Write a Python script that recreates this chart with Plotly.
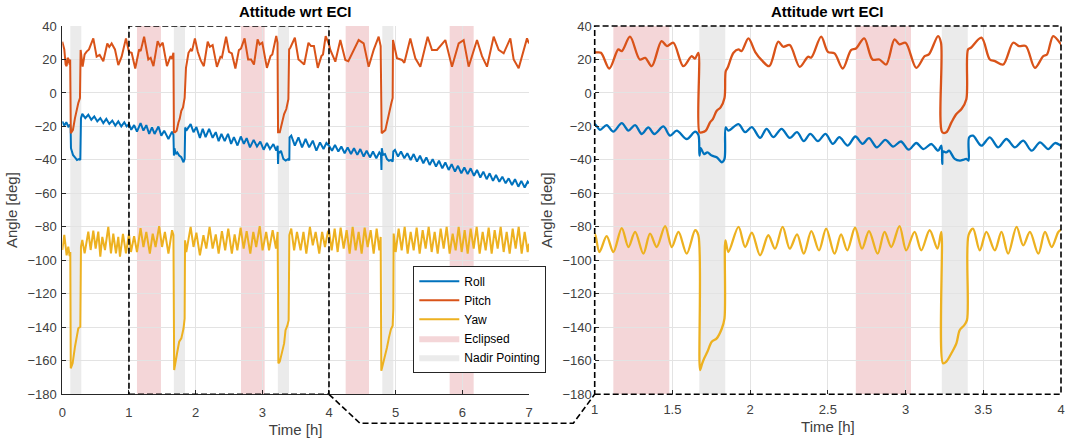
import plotly.graph_objects as go

# ---------------- data ----------------
t_roll = [0.0, 0.03, 0.06, 0.09, 0.115, 0.125, 0.13, 0.16, 0.19, 0.22, 0.25, 0.27, 0.28, 0.30, 0.345, 0.39, 0.435, 0.48, 0.525, 0.57, 0.615, 0.66, 0.705, 0.75, 0.795, 0.84, 0.885, 0.93, 0.965,
          1.0, 1.034, 1.077, 1.12, 1.174, 1.217, 1.26, 1.303, 1.345, 1.384, 1.442, 1.485, 1.528, 1.592, 1.646, 1.667, 1.674, 1.682, 1.704, 1.725, 1.753, 1.785, 1.818, 1.835, 1.843, 1.86,
          1.925, 1.968, 2.011, 2.064, 2.106, 2.149, 2.202, 2.255, 2.302, 2.345, 2.387, 2.436, 2.485, 2.532, 2.574, 2.628, 2.677, 2.723, 2.765, 2.815, 2.87, 2.92, 2.97, 3.02, 3.069, 3.115, 3.166, 3.209, 3.23,
          3.236, 3.242, 3.262, 3.28, 3.316, 3.35, 3.375, 3.391, 3.405, 3.409, 3.434, 3.488, 3.542, 3.596, 3.649, 3.703, 3.757, 3.811, 3.865, 3.918, 3.961,
          4.0, 4.045, 4.09, 4.14, 4.185, 4.235, 4.28, 4.33, 4.375, 4.425, 4.47, 4.52, 4.565, 4.615, 4.66, 4.71, 4.755, 4.78, 4.787, 4.792, 4.81, 4.84, 4.87, 4.90, 4.93, 4.955, 4.965, 4.99,
          5.035, 5.08, 5.13, 5.175, 5.225, 5.27, 5.32, 5.365, 5.415, 5.46, 5.51, 5.555, 5.605, 5.65, 5.70, 5.745, 5.795, 5.84, 5.89, 5.935, 5.985, 6.03, 6.08, 6.125, 6.175, 6.22, 6.27, 6.315,
          6.365, 6.41, 6.46, 6.505, 6.555, 6.60, 6.65, 6.695, 6.745, 6.79, 6.84, 6.885, 6.935, 6.98, 7.0]
roll = [-17, -19.5, -17.5, -20, -19, -21, -33, -37, -38.5, -40, -39.5, -40, -15, -12.5, -15, -13, -16, -14, -17, -15, -18, -15.5, -18.5, -16.5, -19.5, -17, -20, -17.5, -20,
        -18.6, -22, -19.2, -23.1, -18, -22.5, -19.2, -24.5, -20.6, -24.5, -20, -25.5, -22.5, -27.5, -23.1, -25, -37.4, -33, -36.5, -35.5, -37.4, -38.4, -41.4, -39.4, -20.6, -22.5,
        -18.6, -23.4, -20.4, -26.8, -21.4, -26.4, -21.4, -26.8, -23.4, -28.8, -24.4, -28.8, -24.4, -30.4, -26.4, -31.4, -26, -30.4, -27, -32.5, -28, -32, -29, -33.9, -29.9, -33.5, -30.5, -34.5, -31.5,
        -42.4, -35, -35.5, -34.5, -39.4, -40.4, -39.8, -39.4, -40.4, -26.5, -25.5, -31.5, -26.5, -32.5, -27.5, -32.5, -28.5, -34.5, -29.5, -33.5, -29.9,
        -31.5, -34.5, -31, -35, -32, -36, -32.5, -36.5, -33, -37, -33.5, -38, -34.5, -38.5, -35, -39, -35.5, -37, -46, -33, -37, -36.5, -39.5, -40.5, -40, -41, -35, -34,
        -38, -35, -39, -36, -40, -36.5, -41, -37.5, -42, -38.5, -43, -39.5, -44, -40.5, -45, -41.5, -46, -42.5, -47, -43.5, -48, -44.5, -48.5, -45, -49.5, -46, -50.5, -47,
        -51.5, -48, -52.5, -49, -53, -50, -54, -51, -55, -51.5, -56, -52.5, -56.5, -53, -54]

t_pitch = [0.0, 0.03, 0.05, 0.065, 0.08, 0.095, 0.11, 0.118, 0.128, 0.16, 0.19, 0.215, 0.24, 0.265, 0.275, 0.305, 0.335, 0.365, 0.40, 0.465, 0.515, 0.56, 0.615, 0.675, 0.705, 0.74, 0.79, 0.84, 0.89, 0.955,
           1.0, 1.04, 1.094, 1.152, 1.175, 1.227, 1.29, 1.325, 1.367, 1.43, 1.465, 1.506, 1.57, 1.624, 1.645, 1.667, 1.674, 1.69, 1.715, 1.742, 1.76, 1.785, 1.81, 1.835, 1.843, 1.855, 1.893, 1.925, 1.945,
           1.989, 2.032, 2.074, 2.123, 2.181, 2.213, 2.255, 2.319, 2.372, 2.394, 2.457, 2.5, 2.543, 2.596, 2.649, 2.681, 2.734, 2.787, 2.832, 2.875, 2.929, 2.96, 3.0, 3.069, 3.123, 3.15, 3.209, 3.228,
           3.236, 3.262, 3.295, 3.327, 3.36, 3.391, 3.402, 3.42, 3.488, 3.542, 3.575, 3.628, 3.692, 3.73, 3.774, 3.832, 3.886, 3.91, 3.95,
           4.0, 4.02, 4.095, 4.17, 4.245, 4.29, 4.37, 4.445, 4.52, 4.595, 4.67, 4.745, 4.775, 4.79, 4.845, 4.895, 4.935, 4.955, 4.96, 5.02, 5.095, 5.13, 5.22, 5.295, 5.37, 5.48, 5.545, 5.62,
           5.745, 5.845, 5.945, 6.02, 6.095, 6.22, 6.295, 6.37, 6.47, 6.545, 6.62, 6.72, 6.77, 6.845, 6.91, 6.97, 7.0]
pitch = [30.6, 26, 17, 16, 21, 20, 17, 20, -24, -22, -15, -10.2, -6, -3, 25.7, 15.7, 23, 24.7, 26, 32.6, 21.7, 22.7, 19, 29.6, 27.5, 29.6, 26, 16.7, 21.7, 32.6,
         24.5, 24, 14.6, 26, 25, 33.6, 20, 21, 16, 31, 28, 30, 16, 22, 20.5, 24, -23.5, -23.5, -22.5, -17.6, -15.6, -10.6, -8.6, -3, 13, 15, 24, 26, 25,
         32.6, 24.6, 19.6, 16, 30.6, 27.6, 28.6, 15.6, 21.6, 21.2, 33.6, 24.6, 23.6, 14.6, 25.6, 26.6, 32.6, 20, 20, 17, 32, 29, 30, 15, 22, 23, 34, 30,
         -23.5, -23.5, -17.6, -12.6, -9.6, -3.7, 26, 27, 33, 20, 19, 17, 30, 28, 28, 15, 22, 23, 34,
         29, 25.7, 18.7, 31.6, 19.7, 19, 25.7, 31.6, 29.6, 15.7, 25.7, 33.6, 28, -24, -22.2, -12.2, -6.2, -3, 31.6, 20.7, 19.7, 18, 32.6, 20.7, 15.7, 33.6, 25.7, 25.7,
         31.6, 15.7, 29.6, 31.6, 15.7, 31.6, 22, 15.7, 33.6, 25.7, 23.7, 32.6, 20, 14.7, 24, 32.6, 29.6]

t_yaw = [0.0, 0.03, 0.065, 0.09, 0.11, 0.12, 0.127, 0.155, 0.19, 0.24, 0.27, 0.28, 0.30, 0.335, 0.39, 0.425, 0.465, 0.50, 0.54, 0.57, 0.60, 0.64, 0.69, 0.73, 0.765, 0.805, 0.84, 0.865, 0.91, 0.955,
         1.0, 1.03, 1.077, 1.12, 1.174, 1.217, 1.26, 1.313, 1.356, 1.399, 1.453, 1.496, 1.539, 1.592, 1.646, 1.667, 1.678, 1.69, 1.704, 1.725, 1.753, 1.785, 1.818, 1.835, 1.841, 1.86,
         1.925, 1.968, 2.011, 2.064, 2.117, 2.16, 2.209, 2.255, 2.302, 2.345, 2.394, 2.443, 2.489, 2.543, 2.585, 2.625, 2.675, 2.72, 2.765, 2.82, 2.865, 2.908, 2.961, 3.004, 3.058, 3.101, 3.155, 3.205, 3.23,
         3.241, 3.262, 3.295, 3.327, 3.348, 3.375, 3.395, 3.405, 3.434, 3.477, 3.52, 3.574, 3.617, 3.66, 3.714, 3.757, 3.8, 3.854, 3.897, 3.94, 3.983,
         4.0, 4.04, 4.085, 4.13, 4.175, 4.22, 4.265, 4.31, 4.355, 4.40, 4.445, 4.49, 4.535, 4.58, 4.625, 4.67, 4.715, 4.755, 4.775, 4.785, 4.805, 4.84, 4.87, 4.90, 4.93, 4.955, 4.965, 4.97,
         5.0, 5.045, 5.09, 5.135, 5.18, 5.225, 5.27, 5.315, 5.36, 5.405, 5.45, 5.495, 5.54, 5.585, 5.63, 5.675, 5.72, 5.765, 5.81, 5.855, 5.90, 5.945, 5.99, 6.035, 6.08, 6.125, 6.17,
         6.215, 6.26, 6.305, 6.35, 6.395, 6.44, 6.485, 6.53, 6.575, 6.62, 6.665, 6.71, 6.755, 6.80, 6.845, 6.89, 6.935, 6.98, 7.0]
yaw = [-93.8, -84.8, -97, -91.8, -97.5, -95, -164.5, -161.5, -151.6, -140.6, -139.6, -91.8, -87.8, -95.8, -82.8, -93.8, -82.2, -93, -82.8, -97.8, -86, -93.8, -80, -95.8, -84, -95.8, -86, -97.8, -84.2, -95.8,
       -84.1, -95, -85.5, -95, -80.7, -92, -83, -96, -84, -92, -79.5, -92, -83, -96, -82, -85, -165.5, -162, -158.6, -154.6, -148.6, -146.6, -140.7, -134.7, -88, -95,
       -80, -92, -83.4, -97, -85, -93, -80, -93, -84.5, -96, -82.5, -94, -81, -96, -84.5, -94, -80.5, -93, -82.5, -96, -83, -92, -79.5, -94, -83, -94, -82, -93, -83,
       -161.5, -160.5, -155.5, -149.6, -141.7, -139, -135.7, -85, -81, -94, -83, -94, -83, -96, -80, -91, -83, -96, -83, -92, -83,
       -82, -94, -81, -95, -80.5, -93, -82, -96, -80, -94, -83, -96, -80.5, -92, -82, -96, -81, -94, -86, -166, -163, -158, -152, -146, -141, -139, -129, -84,
       -95, -81, -94, -80, -96, -83, -94, -80.5, -96, -82, -93, -80, -95, -83, -96, -81, -93, -80, -96, -84, -94, -80, -95, -82, -96, -81, -93,
       -80, -96, -83, -94, -80.5, -96, -82, -93, -80, -95, -83, -96, -81, -93, -80, -96, -83, -95, -90]

eclipse_start = [1.12, 2.68, 4.25, 5.81]
eclipse_end = [1.48, 3.035, 4.60, 6.17]
nadir_start = [0.12, 1.673, 3.233, 4.80]
nadir_end = [0.285, 1.84, 3.40, 4.965]

series_names = ["Roll", "Pitch", "Yaw"]
series_colors = ["#0072BD", "#D95319", "#EDB120"]
x_ticks_left = [0, 1, 2, 3, 4, 5, 6, 7]
x_ticks_right = [1, 1.5, 2, 2.5, 3, 3.5, 4]
y_ticks = [-180, -160, -140, -120, -100, -80, -60, -40, -20, 0, 20, 40]
zoom_range = [1, 4]
full_range = [0, 7]
y_range = [-180, 40]

# ---------------- figure ----------------
W, H = 1068, 444
FONT = "Liberation Sans, Arial, Helvetica, sans-serif"
TXT = "#404040"
ECL_COLOR = "#F4D6D8"
NAD_COLOR = "#EBEBEB"

def px_x(p):
    return p / W

def px_y(p):
    return 1 - p / H

dom_left = [px_x(62.3), px_x(529)]
dom_right = [px_x(594.7), px_x(1061)]
dom_y = [px_y(394.3), px_y(26)]

fig = go.Figure()

data = [(t_roll, roll), (t_pitch, pitch), (t_yaw, yaw)]
for (tx, vy), name, col in zip(data, series_names, series_colors):
    fig.add_trace(go.Scatter(x=tx, y=vy, name=name, mode="lines",
                             line=dict(color=col, width=2, shape="linear"),
                             xaxis="x", yaxis="y", showlegend=True))
for (tx, vy), name, col in zip(data, series_names, series_colors):
    fig.add_trace(go.Scatter(x=tx, y=vy, name=name, mode="lines",
                             line=dict(color=col, width=2.3, shape="spline", smoothing=0.9),
                             xaxis="x2", yaxis="y2", showlegend=False))

# legend patches
fig.add_trace(go.Scatter(x=[None], y=[None], name="Eclipsed", mode="lines", fill="toself",
                         fillcolor=ECL_COLOR, line=dict(width=0, color=ECL_COLOR),
                         xaxis="x", yaxis="y"))
fig.add_trace(go.Scatter(x=[None], y=[None], name="Nadir Pointing", mode="lines", fill="toself",
                         fillcolor=NAD_COLOR, line=dict(width=0, color=NAD_COLOR),
                         xaxis="x", yaxis="y"))

shapes = []
for (starts, ends, col) in [(eclipse_start, eclipse_end, ECL_COLOR), (nadir_start, nadir_end, NAD_COLOR)]:
    for s, e in zip(starts, ends):
        shapes.append(dict(type="rect", xref="x", yref="y", x0=s, x1=e, y0=y_range[0], y1=y_range[1],
                           fillcolor=col, line=dict(width=0), layer="below"))
        lo, hi = max(s, zoom_range[0]), min(e, zoom_range[1])
        if hi > lo:
            shapes.append(dict(type="rect", xref="x2", yref="y2", x0=lo, x1=hi, y0=y_range[0], y1=y_range[1],
                               fillcolor=col, line=dict(width=0), layer="below"))

DASH = dict(color="black", width=1.6, dash="6px,3px")
# zoom rectangle on left
shapes.append(dict(type="rect", xref="x", yref="y", x0=zoom_range[0], x1=zoom_range[1],
                   y0=y_range[0], y1=y_range[1], line=DASH, layer="above"))
# box around right axes
shapes.append(dict(type="rect", xref="x2 domain", yref="y2 domain", x0=0, x1=1, y0=0, y1=1,
                   line=DASH, layer="above"))
# connector
lx = dom_left[0] + (dom_left[1] - dom_left[0]) * (zoom_range[1] - full_range[0]) / (full_range[1] - full_range[0])
yb = dom_y[0]
path = "M {:.5f} {:.5f} L {:.5f} {:.5f} L {:.5f} {:.5f} L {:.5f} {:.5f}".format(
    lx, yb, px_x(360), px_y(423.3), px_x(573.3), px_y(423.3), dom_right[0], yb)
shapes.append(dict(type="path", xref="paper", yref="paper", path=path, line=DASH, layer="above"))

axis_common = dict(showgrid=True, gridcolor="#E3E3E3", gridwidth=1, zeroline=False,
                   ticks="inside", ticklen=4, tickcolor="#262626",
                   tickfont=dict(family=FONT, size=13, color=TXT), automargin=False)
xtitle = dict(text="Time [h]", font=dict(family=FONT, size=15, color=TXT), standoff=5)
ytitle = dict(text="Angle [deg]", font=dict(family=FONT, size=15, color=TXT), standoff=6)

fig.update_layout(
    width=W, height=H, autosize=False,
    margin=dict(l=0, r=0, t=0, b=0),
    paper_bgcolor="white", plot_bgcolor="white",
    font=dict(family=FONT, size=12, color=TXT),
    xaxis=dict(domain=dom_left, range=full_range, tickvals=x_ticks_left, anchor="y",
               showline=True, linecolor="#262626", linewidth=1, ticklabelstandoff=6,
               title=xtitle, **axis_common),
    yaxis=dict(domain=dom_y, range=y_range, tickvals=y_ticks, anchor="x",
               showline=True, linecolor="#262626", linewidth=1, ticklabelstandoff=2,
               title=ytitle, **axis_common),
    xaxis2=dict(domain=dom_right, range=zoom_range, tickvals=x_ticks_right, anchor="y2",
                showline=False, ticklabelstandoff=6,
                title=xtitle, **axis_common),
    yaxis2=dict(domain=dom_y, range=y_range, tickvals=y_ticks, anchor="x2",
                showline=False, ticklabelstandoff=2,
                title=ytitle, **axis_common),
    shapes=shapes,
    legend=dict(x=px_x(413.3), y=px_y(265.7), xanchor="left", yanchor="top",
                bgcolor="white", bordercolor="#262626", borderwidth=1,
                font=dict(family=FONT, size=12, color="black"),
                itemwidth=40, tracegroupgap=0, traceorder="normal"),
    annotations=[
        dict(text="<b>Attitude wrt ECI</b>", xref="paper", yref="paper",
             x=(dom_left[0] + dom_left[1]) / 2, y=px_y(12), xanchor="center", yanchor="middle",
             showarrow=False, font=dict(family=FONT, size=15, color="black")),
        dict(text="<b>Attitude wrt ECI</b>", xref="paper", yref="paper",
             x=(dom_right[0] + dom_right[1]) / 2, y=px_y(12), xanchor="center", yanchor="middle",
             showarrow=False, font=dict(family=FONT, size=15, color="black")),
    ],
)

fig.write_html("out.html", config={"displayModeBar": False},
               post_script="document.body.style.margin='0px';")
